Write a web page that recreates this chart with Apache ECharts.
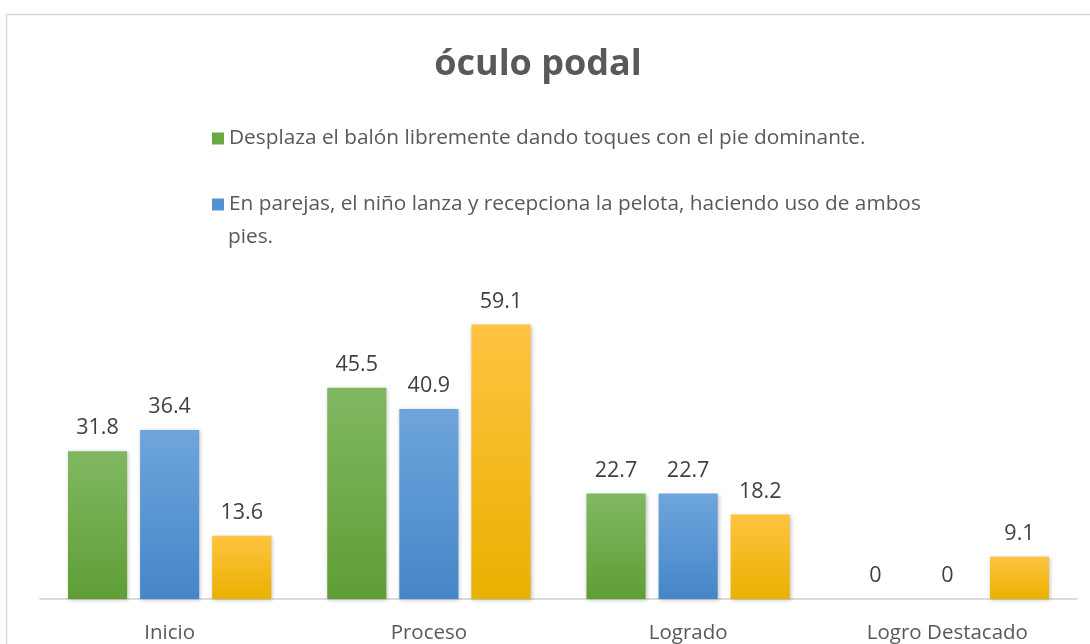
<!DOCTYPE html>
<html>
<head>
<meta charset="utf-8">
<script src="https://cdn.jsdelivr.net/npm/echarts@6/dist/echarts.min.js"></script>
<style>
html,body{margin:0;padding:0;background:#fff;}
#chart{width:1090px;height:644px;}
</style>
</head>
<body>
<div id="chart"></div>
<script>
var titleText = 'óculo podal';
var categories = ['Inicio', 'Proceso', 'Logrado', 'Logro Destacado'];
var seriesNames = [
  'Desplaza el balón libremente dando toques con el pie dominante.',
  'En parejas, el niño lanza y recepciona la pelota, haciendo uso de ambos',
  'Serie 3'
];
var legendExtraLine = 'pies.';
var values1 = [31.8, 45.5, 22.7, 0];
var values2 = [36.4, 40.9, 22.7, 0];
var values3 = [13.6, 59.1, 18.2, 9.1];

var FONT = '"Open Sans"';
function grad(top, bottom) {
  return new echarts.graphic.LinearGradient(0, 0, 0, 1, [
    {offset: 0, color: top}, {offset: 1, color: bottom}
  ]);
}
var colors = [
  grad('#80b862', '#5f9e35'),
  grad('#6ea5dc', '#4586c8'),
  grad('#ffc341', '#e9b100')
];
var legendColors = ['#6aa841', '#5393d4', '#f8bf1c'];

function mkSeries(name, data, i) {
  return {
    name: name,
    type: 'bar',
    data: data,
    barGap: '22%',
    barCategoryGap: '21.6%',
    itemStyle: {
      color: colors[i],
      shadowColor: 'rgba(0,0,0,0.25)',
      shadowBlur: 4,
      shadowOffsetX: 1,
      shadowOffsetY: 1
    },
    label: {
      show: true,
      position: 'top',
      distance: 12,
      fontFamily: FONT,
      fontSize: 21.5,
      color: '#404040'
    }
  };
}

var chart = echarts.init(document.getElementById('chart'));
chart.setOption({
  backgroundColor: '#fff',
  animation: false,
  title: {
    text: titleText,
    left: 533,
    textAlign: 'center',
    top: 42,
    textStyle: {fontFamily: FONT, fontSize: 36, fontWeight: 'bold', color: '#595959'}
  },
  legend: [
    {
      data: [{name: seriesNames[0], itemStyle: {color: legendColors[0]}}],
      left: 207, top: 123, orient: 'vertical',
      itemWidth: 12, itemHeight: 12, icon: 'rect',
      textStyle: {fontFamily: FONT, fontSize: 20.8, color: '#595959'}
    },
    {
      data: [{name: seriesNames[1], itemStyle: {color: legendColors[1]}}],
      left: 207, top: 189, orient: 'vertical',
      itemWidth: 12, itemHeight: 12, icon: 'rect',
      textStyle: {fontFamily: FONT, fontSize: 20.8, color: '#595959'}
    }
  ],
  graphic: [
    {
      type: 'rect', left: 4, top: 12,
      shape: {width: 1100, height: 650},
      style: {fill: 'none', stroke: '#d9d9d9', lineWidth: 1.5},
      silent: true
    },
    {
      type: 'text', left: 228, top: 227,
      style: {text: legendExtraLine, font: '20.8px ' + FONT, fill: '#595959'}
    }
  ],
  grid: {left: 40, right: 13, top: 274, bottom: 44, containLabel: false},
  xAxis: {
    type: 'category',
    data: categories,
    axisLine: {lineStyle: {color: '#d0d0d0', width: 1.5}},
    axisTick: {show: false},
    axisLabel: {fontFamily: FONT, fontSize: 20.5, color: '#595959', margin: 24}
  },
  yAxis: {
    type: 'value', min: 0, max: 70,
    show: false,
    splitLine: {show: false}
  },
  series: [
    mkSeries(seriesNames[0], values1, 0),
    mkSeries(seriesNames[1], values2, 1),
    mkSeries(seriesNames[2], values3, 2)
  ]
});
</script>
</body>
</html>
